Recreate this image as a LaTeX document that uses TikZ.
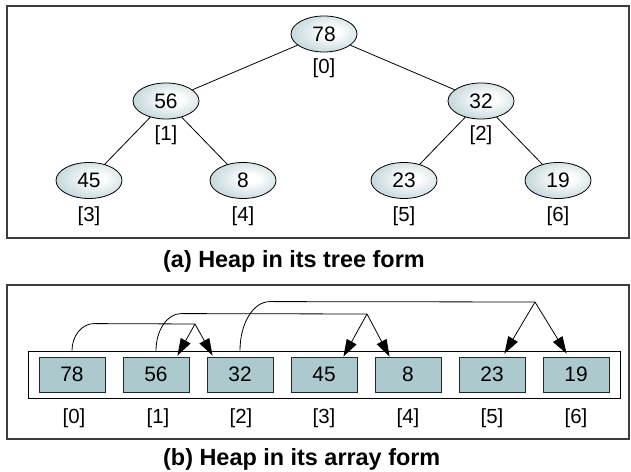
\documentclass[tikz,border=0pt]{standalone}
\usepackage{fontspec}
\setmainfont{Liberation Sans}
\usetikzlibrary{arrows.meta,calc,shapes.geometric}
\definecolor{ellcol}{RGB}{150,184,190}
\definecolor{cellcol}{RGB}{172,201,205}
\definecolor{framecol}{RGB}{60,60,60}
\pgfdeclareradialshading{ellshade}{\pgfpoint{6bp}{3bp}}{color(0bp)=(white); color(6bp)=(white); color(48bp)=(ellcol); color(100bp)=(ellcol)}
\begin{document}
\begin{tikzpicture}[x=1bp,y=1bp,
  treenode/.style={ellipse, draw=black, line width=0.8bp, minimum width=66bp, minimum height=36bp, inner sep=0pt, shading=ellshade, font=\fontsize{21}{21}\selectfont},
  cellbox/.style={rectangle, draw=black!85, line width=0.8bp, fill=cellcol, minimum width=66bp, minimum height=35bp, inner sep=0pt, font=\fontsize{21}{21}\selectfont},
  idx/.style={inner sep=0pt, font=\fontsize{20.5}{21}\selectfont},
  capt/.style={inner sep=0pt, anchor=base west, font=\fontsize{23.5}{24}\selectfont\bfseries},
  frameline/.style={draw=framecol, line width=1.2bp},
  treeline/.style={draw=black, line width=0.8bp},
  link/.style={draw=black, line width=0.8bp},
  tip/.style={link, -{Triangle[length=17bp,width=11bp]}}]
\useasboundingbox (0,0) rectangle (631,472);
% frames
\draw[frameline] (7,234) rectangle (629,466);
\draw[frameline] (7,33) rectangle (629,187);
% tree
\node[treenode] (t0) at (324,438) {78};
\node[treenode] (t1) at (166,371) {56};
\node[treenode] (t2) at (481,371) {32};
\node[treenode] (t3) at (89,291.5) {45};
\node[treenode] (t4) at (243,291.5) {8};
\node[treenode] (t5) at (404,291.5) {23};
\node[treenode] (t6) at (558,291.5) {19};
\node[idx] (l0) at (324,404) {[0]};
\node[idx] (l1) at (166,337) {[1]};
\node[idx] (l2) at (481,337) {[2]};
\node[idx] (l3) at (89,256) {[3]};
\node[idx] (l4) at (243,256) {[4]};
\node[idx] (l5) at (404,256) {[5]};
\node[idx] (l6) at (558,256) {[6]};
\draw[treeline] (t0) -- (t1);
\draw[treeline] (t0) -- (t2);
\draw[treeline] (t1) -- (t3);
\draw[treeline] (t1) -- (t4);
\draw[treeline] (t2) -- (t5);
\draw[treeline] (t2) -- (t6);
\node[capt] (capa) at (163,204) {(a) Heap in its tree form};
% array
\node[draw=black, line width=0.8bp, minimum width=592bp, minimum height=47bp, inner sep=0pt] (arr) at (324,97.5) {};
\node[cellbox] (c0) at (72,97.5) {78};
\node[cellbox] (c1) at (156,97.5) {56};
\node[cellbox] (c2) at (240,97.5) {32};
\node[cellbox] (c3) at (324,97.5) {45};
\node[cellbox] (c4) at (408,97.5) {8};
\node[cellbox] (c5) at (492,97.5) {23};
\node[cellbox] (c6) at (576,97.5) {19};
\node[idx] (i0) at (74,54) {[0]};
\node[idx] (i1) at (158,54) {[1]};
\node[idx] (i2) at (241,54) {[2]};
\node[idx] (i3) at (324,54) {[3]};
\node[idx] (i4) at (408,54) {[4]};
\node[idx] (i5) at (492,54) {[5]};
\node[idx] (i6) at (576,54) {[6]};
% links
\coordinate (s0) at (c0.center |- arr.north);
\coordinate (p0) at (195,148);
\draw[link] (s0) .. controls ($(s0)+(0,15)$) and ($(s0)+(10,27)$) .. ($(s0)+(22,27)$) -- (p0);
\draw[tip] (p0) -- ($(c1.north east)+(-12,1)$);
\draw[tip] (p0) -- ($(c2.north west)+(6,1)$);
\coordinate (s1) at (c1.center |- arr.north);
\coordinate (p1) at (367,158);
\draw[link] (s1) .. controls ($(s1)+(0,20)$) and ($(s1)+(11,37)$) .. ($(s1)+(25,37)$) -- (p1);
\draw[tip] (p1) -- ($(c3.north east)+(-14,0)$);
\draw[tip] (p1) -- ($(c4.north west)+(15,0)$);
\coordinate (s2) at (c2.center |- arr.north);
\coordinate (p2) at (535,170);
\draw[link] (s2) .. controls ($(s2)+(0,27)$) and ($(s2)+(13,49)$) .. ($(s2)+(30,49)$) -- (p2);
\draw[tip] (p2) -- ($(c5.north east)+(-21,3)$);
\draw[tip] (p2) -- ($(c6.north west)+(24,3)$);
\node[capt] (capb) at (163,6.5) {(b) Heap in its array form};
\end{tikzpicture}
\end{document}
